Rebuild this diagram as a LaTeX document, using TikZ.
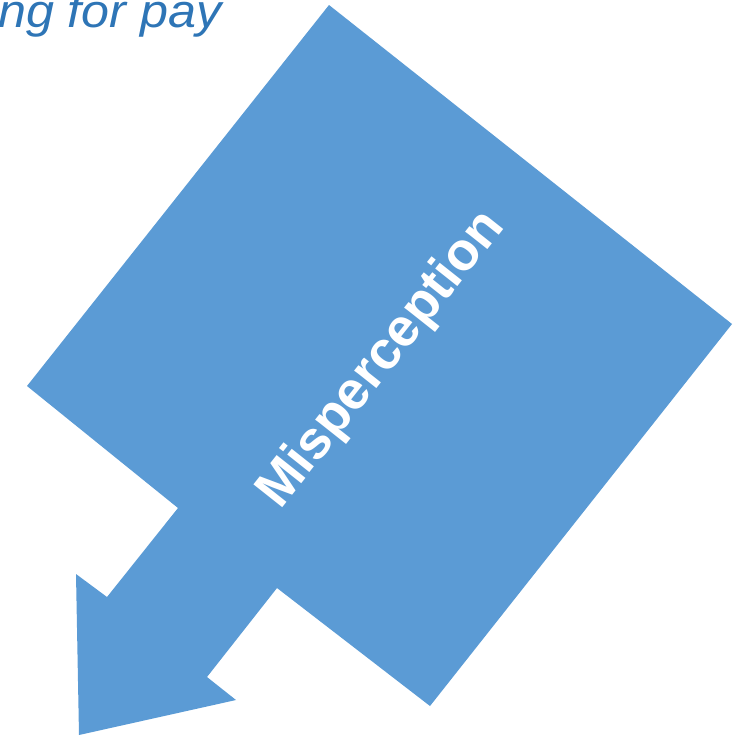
\documentclass[tikz,border=0pt]{standalone}
\usepackage{fontspec}
\setmainfont{Liberation Sans}
\definecolor{shapeblue}{HTML}{5B9BD5}
\definecolor{textblue}{HTML}{2E75B6}
\begin{document}
\begin{tikzpicture}[x=1pt,y=-1pt,
  callout/.style={fill=shapeblue,draw=none},
  lbl/.style={text=white,font=\bfseries\fontsize{53.5}{60}\selectfont,inner sep=0pt},
  captxt/.style={text=textblue,font=\itshape\fontsize{47}{52}\selectfont,inner sep=0pt,anchor=base east}]
\useasboundingbox (0,0) rectangle (743,737);
\fill[callout] (329,5) -- (732,324) -- (430,706) -- (277,588) -- (207,677) -- (236,700)
  -- (79,735) -- (76,574) -- (107,597) -- (178,508) -- (27,386) -- cycle;
\node[lbl,rotate=51.6] (label) at (382,360) {Misperception};
\node[captxt,xscale=1.07] (cap) at (222,27) {ng for pay};
\end{tikzpicture}
\end{document}
